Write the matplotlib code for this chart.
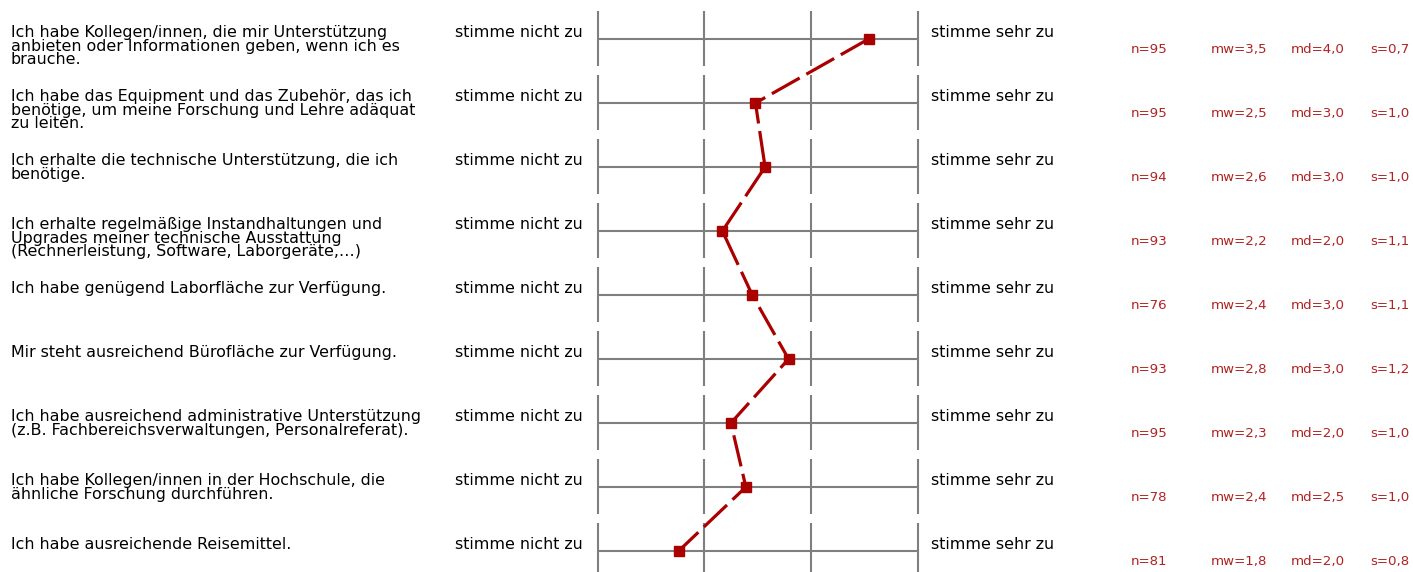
import matplotlib
matplotlib.use("Agg")
import matplotlib.pyplot as plt
from matplotlib.transforms import blended_transform_factory, offset_copy

# ---------------- data ----------------
questions = [
    "Ich habe Kollegen/innen, die mir Unterstützung\nanbieten oder Informationen geben, wenn ich es\nbrauche.",
    "Ich habe das Equipment und das Zubehör, das ich\nbenötige, um meine Forschung und Lehre adäquat\nzu leiten.",
    "Ich erhalte die technische Unterstützung, die ich\nbenötige.",
    "Ich erhalte regelmäßige Instandhaltungen und\nUpgrades meiner technische Ausstattung\n(Rechnerleistung, Software, Laborgeräte,…)",
    "Ich habe genügend Laborfläche zur Verfügung.",
    "Mir steht ausreichend Bürofläche zur Verfügung.",
    "Ich habe ausreichend administrative Unterstützung\n(z.B. Fachbereichsverwaltungen, Personalreferat).",
    "Ich habe Kollegen/innen in der Hochschule, die\nähnliche Forschung durchführen.",
    "Ich habe ausreichende Reisemittel.",
]
left_pole = "stimme nicht zu"
right_pole = "stimme sehr zu"
scale_points = [1, 2, 3, 4]
means = [3.54, 2.48, 2.57, 2.17, 2.45, 2.79, 2.25, 2.39, 1.76]
n_values = [95, 95, 94, 93, 76, 93, 95, 78, 81]
mw_labels = ["3,5", "2,5", "2,6", "2,2", "2,4", "2,8", "2,3", "2,4", "1,8"]
md_labels = ["4,0", "3,0", "3,0", "2,0", "3,0", "3,0", "2,0", "2,5", "2,0"]
s_labels = ["0,7", "1,0", "1,0", "1,1", "1,1", "1,2", "1,0", "1,0", "0,8"]

# ---------------- layout ----------------
W, H, DPI = 1413, 572, 100
plt.rcParams['font.family'] = ['DejaVu Sans']
plt.rcParams['lines.scale_dashes'] = False

fig = plt.figure(figsize=(W / DPI, H / DPI), dpi=DPI)
fig.patch.set_facecolor("white")

x_left_px, x_right_px = 597.5, 917.7
row0_px, pitch_px = 39.0, 64.0
ax = fig.add_axes([x_left_px / W, 0, (x_right_px - x_left_px) / W, 1])
ax.set_xlim(scale_points[0], scale_points[-1])
ax.set_ylim((H - row0_px) / pitch_px, -row0_px / pitch_px)
ax.axis("off")

rows = list(range(len(questions)))
grid_color = "#7f7f7f"
ax.hlines(rows, scale_points[0], scale_points[-1], color=grid_color, lw=1.5, zorder=1)
for r in rows:
    ax.vlines(scale_points, r - 28 / pitch_px, r + 27 / pitch_px,
              color=grid_color, lw=1.5, zorder=1, clip_on=False)

line_color = "#aa0000"
ax.plot(means, rows, color=line_color, lw=2.3, dashes=(23, 5.5), zorder=2)
ax.plot(means, rows, ls="none", marker="s", ms=7, color=line_color,
        mec=line_color, zorder=3)

def px_x(x):
    return x / W

tr = blended_transform_factory(fig.transFigure, ax.transData)
label_tr = offset_copy(tr, fig=fig, x=0, y=14 * 72 / DPI, units="points")
stat_tr = offset_copy(tr, fig=fig, x=0, y=-14 * 72 / DPI, units="points")

label_fs = 11.4
stat_fs = 9.6
stat_color = "#b22222"
for r in rows:
    fig.text(px_x(11), r, questions[r], transform=label_tr, fontsize=label_fs,
             va="top", ha="left", linespacing=0.88, color="black")
    fig.text(px_x(455), r, left_pole, transform=label_tr, fontsize=label_fs,
             va="top", ha="left", color="black")
    fig.text(px_x(931), r, right_pole, transform=label_tr, fontsize=label_fs,
             va="top", ha="left", color="black")
    fig.text(px_x(1131), r, f"n={n_values[r]}", transform=stat_tr, fontsize=stat_fs,
             va="baseline", ha="left", color=stat_color)
    fig.text(px_x(1211), r, f"mw={mw_labels[r]}", transform=stat_tr, fontsize=stat_fs,
             va="baseline", ha="left", color=stat_color)
    fig.text(px_x(1291), r, f"md={md_labels[r]}", transform=stat_tr, fontsize=stat_fs,
             va="baseline", ha="left", color=stat_color)
    fig.text(px_x(1370), r, f"s={s_labels[r]}", transform=stat_tr, fontsize=stat_fs,
             va="baseline", ha="left", color=stat_color)

fig.savefig("out.png", dpi=DPI, facecolor="white")
